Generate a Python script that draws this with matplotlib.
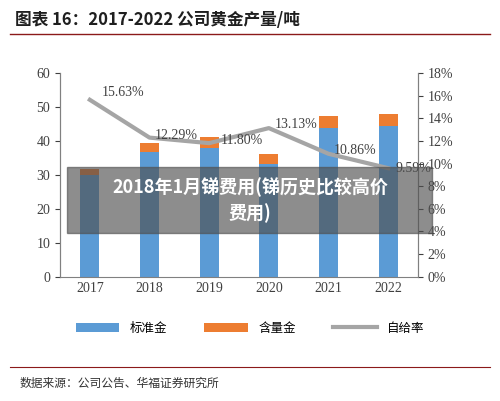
import matplotlib
matplotlib.use("Agg")
import matplotlib.pyplot as plt
plt.rcParams['font.family'] = ['Noto Sans CJK SC', 'DejaVu Sans']

years = ['2017', '2018', '2019', '2020', '2021', '2022']
standard = [30.0, 36.8, 37.9, 33.2, 43.8, 44.4]
content = [1.8, 2.6, 3.3, 3.0, 3.6, 3.5]
ratio = [15.63, 12.29, 11.80, 13.13, 10.86, 9.59]
labels = ['15.63%', '12.29%', '11.80%', '13.13%', '10.86%', '9.59%']

fig = plt.figure(figsize=(5.0, 4.01), dpi=100)
ax = fig.add_axes([0.12, 0.31, 0.716, 0.508])
ax2 = ax.twinx()
x = range(len(years))
ax.bar(x, standard, width=0.32, color='#5b9bd5', label='标准金')
ax.bar(x, content, width=0.32, bottom=standard, color='#ed7d31', label='含量金')
ax2.plot(x, ratio, color='#a5a5a5', lw=3, label='自给率')
offs = [(0.55, 0.1), (0.45, -0.35), (0.55, -0.3), (0.45, -0.3), (0.45, -0.3), (0.42, -0.6)]
for i, (t, v) in enumerate(zip(labels, ratio)):
    ax2.text(i + offs[i][0], v + offs[i][1], t, ha='center', va='bottom', fontsize=10,
             family='Liberation Serif', color='#404040')
ax.set_ylim(0, 60); ax.set_yticks(range(0, 61, 10))
ax2.set_ylim(0, 18); ax2.set_yticks(range(0, 19, 2))
ax2.set_yticklabels([f'{v}%' for v in range(0, 19, 2)])
ax.set_xticks(list(x)); ax.set_xticklabels(years)
ax.set_xlim(-0.5, 5.5)
for a in (ax, ax2):
    a.spines['top'].set_visible(False)
    a.tick_params(labelsize=10, colors='#404040')
    for lab in a.get_xticklabels() + a.get_yticklabels():
        lab.set_family('Liberation Serif')
ax2.spines['bottom'].set_visible(False)
for s in ('left', 'right', 'bottom'):
    ax.spines[s].set_color('#808080'); ax2.spines[s].set_color('#808080')
ax.tick_params(axis='x', length=0)
h1, l1 = ax.get_legend_handles_labels(); h2, l2 = ax2.get_legend_handles_labels()
fig.legend(h1 + h2, l1 + l2, loc='center', bbox_to_anchor=(0.5, 0.182), ncol=3, frameon=False,
           fontsize=9, handlelength=3.5, columnspacing=3)
fig.text(0.03, 0.95, '图表 16：2017-2022 公司黄金产量/吨', fontsize=12, weight='bold', color='#1f1f1f', va='center')
fig.add_artist(plt.Line2D([0.02, 0.98], [0.915, 0.915], color='#8b1a1a', lw=1))
fig.add_artist(plt.Line2D([0.02, 0.98], [0.085, 0.085], color='#8b1a1a', lw=0.8))
fig.text(0.04, 0.045, '数据来源：公司公告、华福证券研究所', fontsize=8.5, color='#333333', va='center')
fig.patches.append(plt.Rectangle((0.134, 0.418), 0.73, 0.165, transform=fig.transFigure,
                                 color='#505050', alpha=0.65, zorder=10))
fig.text(0.5, 0.5, '2018年1月锑费用(锑历史比较高价\n费用)', ha='center', va='center', fontsize=13,
         weight='bold', color='white', zorder=11, linespacing=1.4)
fig.savefig('out.png', dpi=100)
